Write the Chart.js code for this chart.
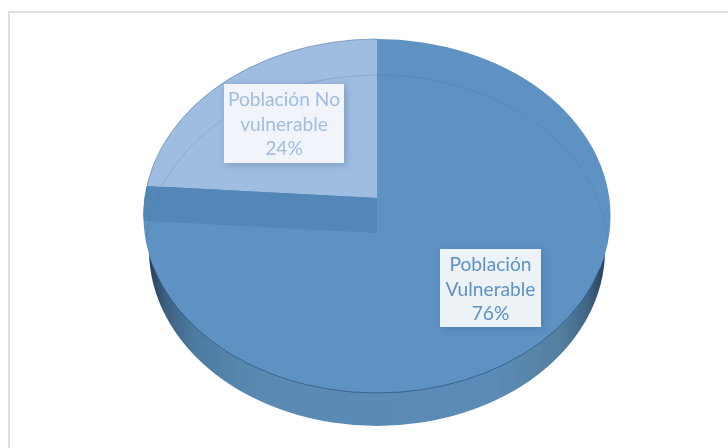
<!DOCTYPE html>
<html><head><meta charset="utf-8">
<script src="https://cdn.jsdelivr.net/npm/chart.js@4"></script>
<style>html,body{margin:0;padding:0;background:#fff}#w{position:absolute;left:0;top:0;width:728px;height:448px}</style>
</head><body><div id="w"><canvas id="c" width="728" height="448"></canvas></div>
<script>
const categories = ["Población Vulnerable", "Población No vulnerable"];
const values = [76, 24];
const sliceColors = ["#5e92c3", "#9fbde1"];
const labelLines = [["Población", "Vulnerable"], ["Población No", "vulnerable"]];

const TOP = {x:377, y:216, rx:233.5, ry:177};
const LOW = {x:377, y:250, rx:228, ry:176};
const RIM = {x:377, y:250, rx:231, ry:175};
const APEX = {x:377, y:198};
const SQUASH = 0.83, WALL = 35;

const ell = (ctx,e)=>{ctx.beginPath();ctx.ellipse(e.x,e.y,e.rx,e.ry,0,0,Math.PI*2);};

const frame = {id:'frame', beforeDraw(chart){
  const c=chart.ctx; c.save();
  c.fillStyle='#fff'; c.fillRect(0,0,728,448);
  c.strokeStyle='#e0e0e0'; c.lineWidth=2;
  c.beginPath(); c.moveTo(9,448); c.lineTo(9,12); c.lineTo(728,12); c.stroke();
  c.restore();
}};

const pie3d = {id:'pie3d',
  beforeDatasetsDraw(chart){
    const c=chart.ctx, arc=chart.getDatasetMeta(0).data[0];
    c.save();
    const g=c.createLinearGradient(LOW.x-LOW.rx,0,LOW.x+LOW.rx,0);
    g.addColorStop(0,'#263f58'); g.addColorStop(.035,'#3d5f80'); g.addColorStop(.1,'#4f7ba3');
    g.addColorStop(.25,'#5a8ab4'); g.addColorStop(.75,'#5b8cb8'); g.addColorStop(.9,'#55809f');
    g.addColorStop(.965,'#3f6384'); g.addColorStop(1,'#263f58');
    c.fillStyle=g; ell(c,LOW); c.fill();
    ell(c,TOP); c.clip();
    c.translate(APEX.x,APEX.y); c.scale(1,SQUASH); c.translate(-arc.x,-arc.y);
  },
  afterDatasetsDraw(chart){
    const c=chart.ctx, meta=chart.getDatasetMeta(0), a=meta.data[1];
    c.restore();
    c.save();
    ell(c,TOP); c.clip();
    const dirX=Math.cos(a.startAngle), dirY=Math.sin(a.startAngle)*SQUASH;
    const t=300;
    c.fillStyle='#5287b8';
    c.beginPath();
    c.moveTo(APEX.x,APEX.y);
    c.lineTo(APEX.x+dirX*t,APEX.y+dirY*t);
    c.lineTo(APEX.x+dirX*t,APEX.y+dirY*t+WALL);
    c.lineTo(APEX.x,APEX.y+WALL);
    c.closePath(); c.fill();
    c.strokeStyle='rgba(70,110,150,.22)'; c.lineWidth=1;
    c.beginPath(); c.ellipse(RIM.x,RIM.y,RIM.rx,RIM.ry,0,Math.PI,Math.PI*2); c.stroke();
    c.restore();
    c.save();
    c.strokeStyle='rgba(45,85,125,.75)'; c.lineWidth=1;
    c.beginPath(); c.ellipse(TOP.x,TOP.y,TOP.rx,TOP.ry,0,0.3,Math.PI-0.3); c.stroke();
    c.strokeStyle='rgba(80,125,170,.6)';
    c.beginPath(); c.ellipse(TOP.x,TOP.y,TOP.rx,TOP.ry,0,Math.PI,Math.PI*1.5); c.stroke();
    c.restore();
    const boxes=[{x:440,y:249,w:101,h:78,col:'#5e92c3',fill:'#edf2f7'},{x:224,y:84,w:120,h:79,col:'#9fbde1',fill:'#f1f4fa'}];
    boxes.forEach((b,i)=>{
      c.save();
      c.shadowColor='rgba(50,80,120,.3)'; c.shadowBlur=7; c.shadowOffsetX=2; c.shadowOffsetY=2;
      c.fillStyle=b.fill; c.fillRect(b.x,b.y,b.w,b.h);
      c.restore();
      c.save();
      c.fillStyle=b.col; c.font='19.2px Lato, "Noto Sans", sans-serif';
      c.textAlign='center'; c.textBaseline='middle';
      const lines=[...labelLines[i], values[i]+'%'];
      lines.forEach((s,k)=>c.fillText(s,b.x+b.w/2,b.y+16+k*24.5));
      c.restore();
    });
  }
};

new Chart(document.getElementById('c'),{
  type:'pie',
  data:{labels:categories,datasets:[{data:values,backgroundColor:sliceColors,borderWidth:0,radius:340}]},
  options:{responsive:false,animation:false,
    layout:{padding:0},
    plugins:{legend:{display:false},tooltip:{enabled:false},title:{display:false}}},
  plugins:[frame,pie3d]
});
</script></body></html>
